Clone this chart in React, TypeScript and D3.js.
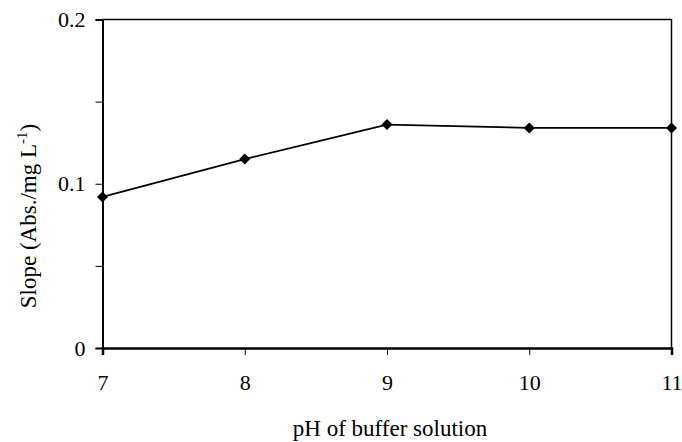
import React, { useRef, useEffect } from 'react';
import * as d3 from 'd3';

const phValues = [7, 8, 9, 10, 11];
const slopeValues = [0.092, 0.115, 0.136, 0.134, 0.134];
const yTickValues = [0, 0.05, 0.1, 0.15, 0.2];
const yLabelTicks = [0, 0.1, 0.2];

const W = 682;
const H = 442;
const margin = { left: 102.5, top: 19.5, right: 10.5, bottom: 94 };

const App = () => {
  const svgRef = useRef<SVGSVGElement>(null);

  useEffect(() => {
    const svg = d3.select(svgRef.current);
    svg.selectAll('*').remove();

    const x = d3.scaleLinear().domain([7, 11]).range([margin.left, W - margin.right]);
    const y = d3.scaleLinear().domain([0, 0.2]).range([H - margin.bottom, margin.top]);
    const font = "'Liberation Serif', serif";
    const fs = '22px';

    // frame (top + right)
    svg.append('path')
      .attr('d', `M${x(7)},${y(0.2)}H${x(11)}V${y(0)}`)
      .attr('fill', 'none').attr('stroke', '#000').attr('stroke-width', 1.5);

    // y axis
    const yAxis = svg.append('g').attr('transform', `translate(${x(7)},0)`)
      .call(d3.axisLeft(y).tickValues(yTickValues).tickSize(7)
        .tickFormat(d => (yLabelTicks.includes(+d) ? d3.format('')(+d) : '')));
    yAxis.attr('font-family', null).attr('font-size', null);
    yAxis.select('.domain').attr('stroke-width', 2);
    yAxis.selectAll('.tick line').attr('stroke-width', 1);
    yAxis.selectAll('text').style('font-family', font).style('font-size', fs).attr('x', -17).attr('fill', '#000');

    // x axis
    const xAxis = svg.append('g').attr('transform', `translate(0,${y(0)})`)
      .call(d3.axisBottom(x).tickValues(phValues).tickSize(7).tickFormat(d3.format('d')));
    xAxis.attr('font-family', null).attr('font-size', null);
    xAxis.select('.domain').attr('stroke-width', 2.5);
    xAxis.selectAll('.tick line').attr('stroke-width', 1);
    xAxis.selectAll('text').style('font-family', font).style('font-size', fs).attr('y', 26).attr('fill', '#000');

    const pts = phValues.map((p, i) => [p, slopeValues[i]] as [number, number]);
    const line = d3.line<[number, number]>().x(d => x(d[0])).y(d => y(d[1]));
    svg.append('path').datum(pts).attr('d', line)
      .attr('fill', 'none').attr('stroke', '#000').attr('stroke-width', 1.7);

    svg.selectAll('.marker').data(pts).enter().append('path')
      .attr('class', 'marker')
      .attr('d', 'M0,-5.5L5.5,0L0,5.5L-5.5,0Z')
      .attr('transform', d => `translate(${x(d[0])},${y(d[1])})`)
      .attr('fill', '#000');

    // axis titles
    svg.append('text')
      .attr('x', 390).attr('y', 436)
      .attr('text-anchor', 'middle')
      .style('font-family', font).style('font-size', '23px')
      .text('pH of buffer solution');

    const yt = svg.append('text')
      .attr('transform', 'translate(36,216) rotate(-90)')
      .attr('text-anchor', 'middle')
      .style('font-family', font).style('font-size', '23px');
    yt.append('tspan').text('Slope (Abs./mg L');
    yt.append('tspan').style('font-size', '15px').attr('dy', -9).text('-1');
    yt.append('tspan').attr('dy', 9).text(')');
  }, []);

  return <svg ref={svgRef} width={W} height={H} style={{ display: 'block', position: 'absolute', left: 0, top: 0 }} />;
};

export default App;
